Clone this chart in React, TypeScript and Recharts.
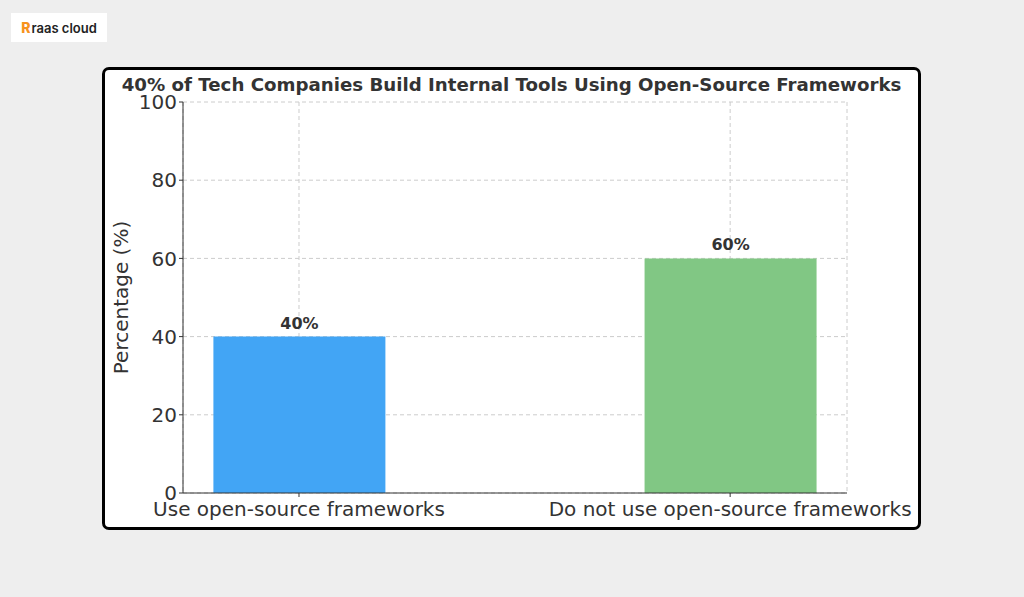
import React from "react";
import { BarChart, Bar, XAxis, YAxis, CartesianGrid, LabelList, Cell } from "recharts";

const categories = ["Use open-source frameworks", "Do not use open-source frameworks"];
const values = [40, 60];
const colors = ["#42A5F5", "#81C784"];
const yTicks = [0, 20, 40, 60, 80, 100];
const title = "40% of Tech Companies Build Internal Tools Using Open-Source Frameworks";

const data = categories.map((c, i) => ({ x: i, name: c, value: values[i] }));

const FONT = "'DejaVu Sans', sans-serif";

export default function App() {
  return (
    <div style={{ position: "absolute", left: 0, top: 0, width: 1024, height: 597, background: "#eeeeee", fontFamily: FONT, overflow: "hidden" }}>
      <div style={{ position: "absolute", left: 11, top: 13, width: 96, height: 29, background: "#ffffff", display: "flex", alignItems: "center", justifyContent: "center" }}>
        <span style={{ fontFamily: "Inter, sans-serif", fontWeight: 800, fontSize: 14, color: "#f7931e", marginRight: 1 }}>R</span>
        <span style={{ fontFamily: "Inter, sans-serif", fontWeight: 600, fontSize: 13, color: "#222" }}>raas cloud</span>
      </div>
      <div style={{ position: "absolute", left: 102, top: 67, width: 813, height: 457, background: "#ffffff", border: "3px solid #000", borderRadius: 7 }} />
      <div style={{ position: "absolute", left: 0, top: 0, width: 1024, height: 597 }}>
        <BarChart width={1024} height={597} data={data} margin={{ top: 102, right: 177, bottom: 74, left: 123 }}>
          <CartesianGrid stroke="#cccccc" strokeDasharray="4 3" />
          <XAxis
            dataKey="x"
            type="number"
            domain={[-0.269, 1.271]}
            ticks={[0, 1]}
            tickFormatter={(v: number) => categories[v]}
            height={30}
            stroke="#333"
            tickSize={4}
            tick={{ fill: "#333", fontSize: 20, fontFamily: FONT, dy: 3 }}
            allowDataOverflow
          />
          <YAxis
            domain={[0, 100]}
            ticks={yTicks}
            width={60}
            stroke="#333"
            tickSize={4}
            tick={{ fill: "#333", fontSize: 20, fontFamily: FONT }}
            label={{
              content: ({ viewBox }: any) => {
                const cx = viewBox.x - 2;
                const cy = viewBox.y + viewBox.height / 2;
                return (
                  <text x={cx} y={cy} transform={`rotate(-90 ${cx} ${cy})`} textAnchor="middle" dominantBaseline="central" fill="#333" fontSize={20} fontFamily={FONT}>
                    Percentage (%)
                  </text>
                );
              },
            }}
          />
          <Bar dataKey="value" barSize={172} isAnimationActive={false}>
            {data.map((d, i) => (
              <Cell key={d.name} fill={colors[i]} />
            ))}
            <LabelList dataKey="value" position="top" offset={8} formatter={(v: any) => `${v}%`} fill="#333" fontSize={16} fontWeight="bold" fontFamily={FONT} />
          </Bar>
        </BarChart>
      </div>
      <div style={{ position: "absolute", left: 102, width: 819, top: 74, textAlign: "center", fontFamily: FONT, fontWeight: 700, fontSize: 18.2, color: "#333", whiteSpace: "nowrap" }}>
        {title}
      </div>
    </div>
  );
}
